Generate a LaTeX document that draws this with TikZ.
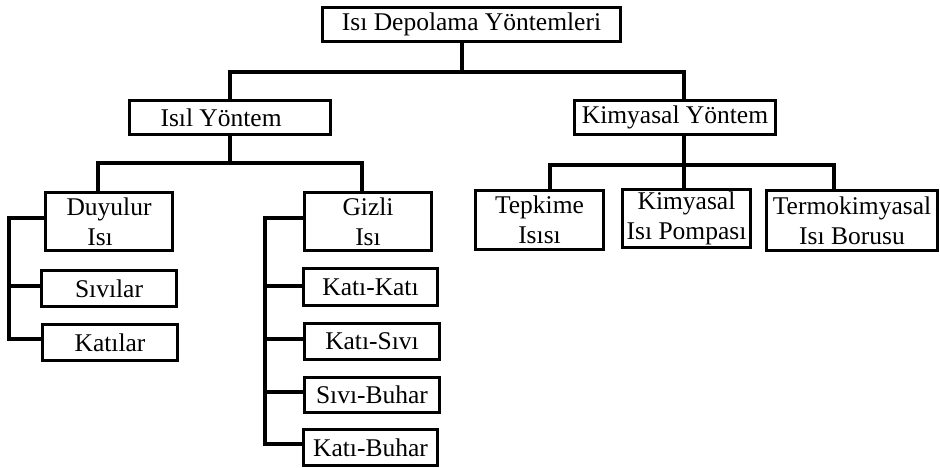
\documentclass[tikz,border=0pt]{standalone}
\usepackage{fontspec}
\setmainfont{Liberation Serif}
\begin{document}
\begin{tikzpicture}[x=1pt,y=-1pt,
  box/.style={draw, line width=3.2pt, inner sep=0pt, align=center,
    font=\fontsize{25.5}{30}\selectfont},
  conn/.style={line width=3.2pt}]
\useasboundingbox (0,0) rectangle (940,468);
% boxes
\node[box, minimum width=298, minimum height=34] (top) at (471.5,24.5) {Isı Depolama Yöntemleri};
\node[box, minimum width=201, minimum height=34] (isil) at (230,117.5) {Isıl Yöntem\hspace*{0.7em}};
\node[box, minimum width=201, minimum height=34] (kim) at (675,117.5) {Kimyasal Yöntem};
\node[box, minimum width=127, minimum height=58] (duy) at (109,221.5) {Duyulur\\Isı\hspace*{0.7em}};
\node[box, minimum width=127, minimum height=58] (giz) at (368,221.5) {Gizli\\Isı};
\node[box, minimum width=135, minimum height=36] (siv) at (109,288.5) {Sıvılar};
\node[box, minimum width=135, minimum height=36] (kat) at (110,342.5) {Katılar};
\node[box, minimum width=134, minimum height=37] (kk) at (370.5,287) {Katı-Katı};
\node[box, minimum width=135, minimum height=36] (ks) at (372,341.5) {Katı-Sıvı};
\node[box, minimum width=135, minimum height=35] (sb) at (372,395) {Sıvı-Buhar};
\node[box, minimum width=134, minimum height=36] (kb) at (370.5,447.5) {Katı-Buhar};
\node[box, minimum width=128, minimum height=59] (tep) at (539.5,220) {Tepkime\\Isısı};
\node[box, minimum width=128, minimum height=58] (pom) at (686.5,218.5) {Kimyasal\\Isı Pompası};
\node[box, minimum width=171, minimum height=60] (ter) at (852,220.5) {Termokimyasal\\Isı Borusu};
% junction coordinates
\coordinate (j0) at (462,72);
\coordinate (j1) at (684,72);
\coordinate (j2) at (230,163);
\coordinate (j2a) at (98,163);
\coordinate (j2b) at (362,163);
\coordinate (j3) at (684,165);
\coordinate (j3a) at (550,165);
\coordinate (j3b) at (834,165);
\coordinate (b1) at (9,218);
\coordinate (b1s) at (9,286);
\coordinate (b1e) at (9,339);
\coordinate (b2) at (265,218);
\coordinate (b2a) at (265,286);
\coordinate (b2b) at (265,339);
\coordinate (b2c) at (265,392);
\coordinate (b2e) at (265,444);
% connectors
\draw[conn] (top.south -| j0) -- (j0);
\draw[conn] (isil.north) |- (j1) -- (j1 |- kim.north);
\draw[conn] (isil.south) -- (j2);
\draw[conn] (j2a |- duy.north) |- (j2b) -- (j2b |- giz.north);
\draw[conn] (j3 |- kim.south) -- (j3 |- pom.north);
\draw[conn] (j3a |- tep.north) |- (j3b) -- (j3b |- ter.north);
\draw[conn] (duy.west |- b1) -- (b1) -- (b1e) -- (kat.west |- b1e);
\draw[conn] (b1s) -- (siv.west |- b1s);
\draw[conn] (giz.west |- b2) -- (b2) -- (b2e) -- (kb.west |- b2e);
\draw[conn] (b2a) -- (kk.west |- b2a);
\draw[conn] (b2b) -- (ks.west |- b2b);
\draw[conn] (b2c) -- (sb.west |- b2c);
\end{tikzpicture}
\end{document}
